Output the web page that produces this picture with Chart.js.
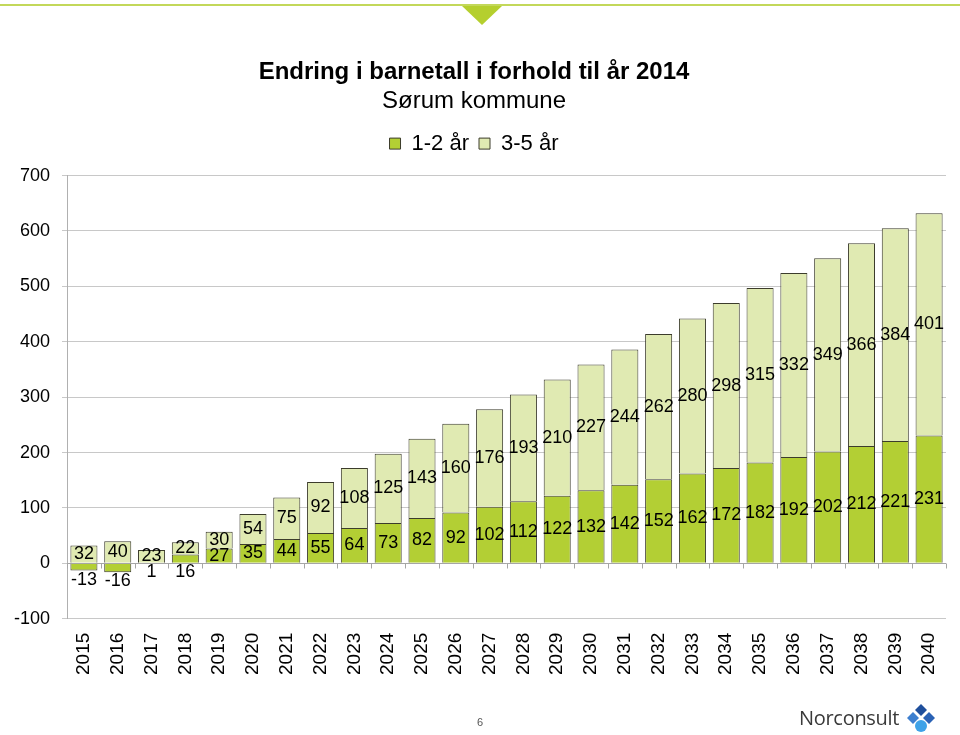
<!DOCTYPE html>
<html>
<head>
<meta charset="utf-8">
<script src="https://cdn.jsdelivr.net/npm/chart.js@4/dist/chart.umd.min.js"></script>
<style>
  html, body { margin: 0; padding: 0; background: #fff; }
  #wrap { position: relative; width: 960px; height: 735px; overflow: hidden; font-family: "Liberation Sans", Arial, sans-serif; }
  #topline { position: absolute; left: 0; top: 4px; width: 960px; height: 2px; background: #c3d85a; }
  #tri { position: absolute; left: 462px; top: 6px; width: 0; height: 0;
         border-left: 20px solid transparent; border-right: 20px solid transparent; border-top: 19px solid #b5cf2e; }
  #page { position: absolute; left: 477px; top: 716px; font-size: 11px; color: #555; }
  #logo { position: absolute; left: 799px; top: 704px; font-size: 20px; color: #3a3a3a; font-family: "Open Sans", "Liberation Sans", sans-serif; letter-spacing: -0.3px; }
  #diam { position: absolute; left: 904px; top: 704px; }
  canvas { position: absolute; left: 0; top: 0; }
</style>
</head>
<body>
<div id="wrap">
  <canvas id="chart" width="960" height="735"></canvas>
  <div id="topline"></div>
  <div id="tri"></div>
  <div id="page">6</div>
  <div id="logo">Norconsult</div>
  <svg id="diam" width="34" height="30" viewBox="0 0 34 30">
    <polygon points="17,0 23,6 17,12 11,6" fill="#1f4f9c"/>
    <polygon points="9,8 15,14 9,20 3,14" fill="#3d7fcf"/>
    <polygon points="25,8 31,14 25,20 19,14" fill="#2a62b5"/>
    <circle cx="17" cy="22" r="6" fill="#3ea2e8"/>
  </svg>
</div>
<script>
// data lest fra figuren
const years = ['2015','2016','2017','2018','2019','2020','2021','2022','2023','2024','2025','2026','2027',
  '2028','2029','2030','2031','2032','2033','2034','2035','2036','2037','2038','2039','2040'];
const ettTo = [-13, -16, 1, 16, 27, 35, 44, 55, 64, 73, 82, 92, 102, 112, 122, 132, 142, 152, 162, 172, 182, 192, 202, 212, 221, 231];
const treFem = [32, 40, 23, 22, 30, 54, 75, 92, 108, 125, 143, 160, 176, 193, 210, 227, 244, 262, 280, 298, 315, 332, 349, 366, 384, 401];
const yTicks = [-100, 0, 100, 200, 300, 400, 500, 600, 700];

const FONT = '"Liberation Sans", Arial, sans-serif';

// etiketter midt i hvert segment
const labelPlugin = {
  id: 'labels',
  afterDatasetsDraw(chart) {
    const ctx = chart.ctx;
    const y = chart.scales.y;
    ctx.save();
    ctx.font = '18px ' + FONT;
    ctx.fillStyle = '#000';
    ctx.textAlign = 'center';
    ctx.textBaseline = 'middle';
    chart.data.datasets.forEach((ds, di) => {
      const meta = chart.getDatasetMeta(di);
      meta.data.forEach((bar, i) => {
        const top = Math.min(bar.y, bar.base);
        const bot = Math.max(bar.y, bar.base);
        let cy = (top + bot) / 2;
        if (di === 0 && (bot - top) < 12) {
          // små segmenter: etiketten under nullinjen
          cy = Math.max(bot, y.getPixelForValue(0)) + 9;
        }
        ctx.fillText(String(ds.data[i]), bar.x, cy);
      });
    });
    ctx.restore();
  }
};

// kategoriakse ved 0 med små streker
const zeroAxis = {
  id: 'zeroAxis',
  afterDatasetsDraw(chart) {
    const ctx = chart.ctx;
    const y = chart.scales.y;
    const y0 = Math.round(y.getPixelForValue(0)) + 0.5;
    ctx.save();
    ctx.strokeStyle = '#a6a6a6';
    ctx.lineWidth = 1;
    ctx.beginPath();
    ctx.moveTo(chart.chartArea.left, y0);
    ctx.lineTo(chart.chartArea.right, y0);
    const w = (chart.chartArea.right - chart.chartArea.left) / years.length;
    for (let i = 0; i <= years.length; i++) {
      const px = Math.round(chart.chartArea.left + i * w) + 0.5;
      ctx.moveTo(px, y0);
      ctx.lineTo(px, y0 + 5);
    }
    ctx.stroke();
    ctx.restore();
  }
};

// litt ekstra luft under legenden
const legendGap = {
  id: 'legendGap',
  beforeInit(chart) {
    const fit = chart.legend.fit;
    chart.legend.fit = function () {
      fit.bind(chart.legend)();
      this.height += 11;
    };
  }
};

new Chart(document.getElementById('chart'), {
  type: 'bar',
  data: {
    labels: years,
    datasets: [
      { label: '1-2 år', data: ettTo, backgroundColor: '#b3cf34', borderColor: '#3c3c2c', borderWidth: 1,
        barPercentage: 0.8, categoryPercentage: 1 },
      { label: '3-5 år', data: treFem, backgroundColor: '#e0eab2', borderColor: '#3c3c2c', borderWidth: 1,
        barPercentage: 0.8, categoryPercentage: 1 }
    ]
  },
  options: {
    responsive: false,
    animation: false,
    layout: { padding: { top: 58, left: 2, right: 14, bottom: 54 } },
    plugins: {
      title: { display: true, text: 'Endring i barnetall i forhold til år 2014', color: '#000',
        font: { family: FONT, size: 24, weight: 'bold' }, padding: { top: 0, bottom: 0 } },
      subtitle: { display: true, text: 'Sørum kommune', color: '#000',
        font: { family: FONT, size: 24 }, padding: { top: 0, bottom: 7 } },
      legend: {
        labels: { font: { family: FONT, size: 22 }, color: '#000', boxWidth: 11, boxHeight: 11,
          useBorderRadius: false, padding: 10 }
      },
      tooltip: { enabled: false }
    },
    scales: {
      x: {
        stacked: true,
        grid: { display: false },
        border: { display: false },
        ticks: { font: { family: FONT, size: 19 }, color: '#000', minRotation: 90, maxRotation: 90, padding: 6 }
      },
      y: {
        stacked: true,
        min: -100, max: 700,
        afterBuildTicks: (axis) => { axis.ticks = yTicks.map(v => ({ value: v })); },
        grid: { color: '#c8c8c8', tickLength: 5, drawTicks: true },
        border: { color: '#b0b0b0' },
        ticks: { font: { family: FONT, size: 18 }, color: '#000', padding: 12 }
      }
    }
  },
  plugins: [labelPlugin, zeroAxis, legendGap]
});
</script>
</body>
</html>
